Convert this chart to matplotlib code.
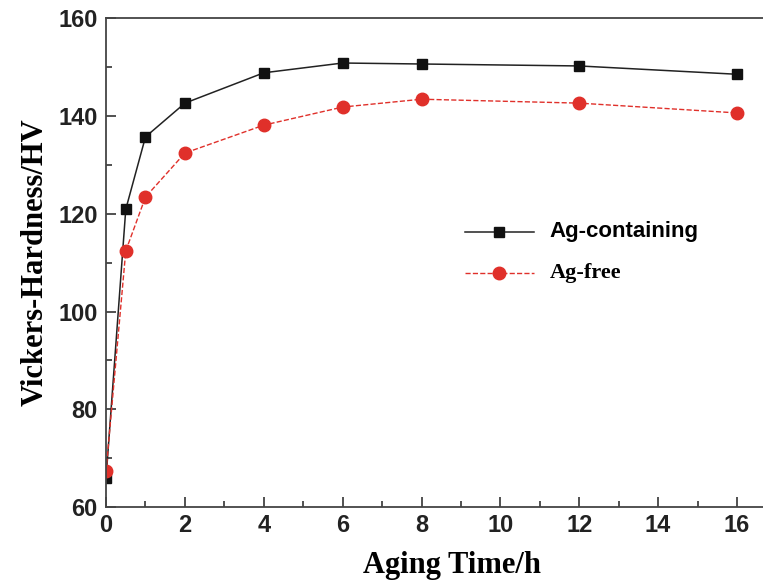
import matplotlib.pyplot as plt
from matplotlib.ticker import MultipleLocator

# aging time (h) and Vickers hardness (HV)
time_h = [0, 0.5, 1, 2, 4, 6, 8, 12, 16]
hv_ag = [66.0, 120.9, 135.7, 142.6, 148.8, 150.8, 150.6, 150.2, 148.5]
hv_free = [67.4, 112.4, 123.4, 132.4, 138.1, 141.8, 143.4, 142.6, 140.6]

fig = plt.figure(figsize=(7.63, 5.81), dpi=100)
ax = fig.add_axes([0.139, 0.127, 0.861, 0.842])

ax.plot(time_h, hv_ag, '-', lw=1.1, color='#222222', marker='s', ms=7.5,
        mfc='#111111', mec='#111111', label='Ag-containing')
ax.plot(time_h, hv_free, '--', lw=1.0, color='#e0302a', marker='o', ms=9,
        label='Ag-free')

ax.set_xlim(0, 16.66)
ax.set_ylim(60, 160)
ax.xaxis.set_major_locator(MultipleLocator(2))
ax.xaxis.set_minor_locator(MultipleLocator(1))
ax.yaxis.set_major_locator(MultipleLocator(20))
ax.yaxis.set_minor_locator(MultipleLocator(10))
ax.tick_params(which='both', direction='in', top=False, right=False,
               width=1.2, color='#333333')
ax.tick_params(which='major', length=7)
ax.tick_params(which='minor', length=4)
for lab in ax.get_xticklabels() + ax.get_yticklabels():
    lab.set_fontfamily('Liberation Sans')
    lab.set_fontweight('bold')
    lab.set_fontsize(17)
    lab.set_color('#222222')
ax.tick_params(axis='x', pad=5)
ax.tick_params(axis='y', pad=6)
for s in ['left', 'bottom', 'top']:
    ax.spines[s].set_linewidth(1.3)
    ax.spines[s].set_color('#444444')
ax.spines['right'].set_visible(False)

ax.set_xlabel('Aging Time/h', family='Liberation Serif', weight='bold',
              fontsize=22, labelpad=10)
ax.xaxis.label.set_x(0.527)
ax.set_ylabel('Vickers-Hardness/HV', family='Liberation Serif', weight='bold',
              fontsize=22, labelpad=6)

leg = ax.legend(loc='upper left', bbox_to_anchor=(0.527, 0.61), frameon=False,
                handlelength=5.0, handletextpad=1.1, labelspacing=1.5)
texts = leg.get_texts()
texts[0].set_fontfamily('Liberation Sans')
texts[0].set_fontweight('bold')
texts[0].set_fontsize(16)
texts[1].set_fontfamily('Liberation Serif')
texts[1].set_fontweight('bold')
texts[1].set_fontsize(16)

plt.savefig('out.png', dpi=100)
